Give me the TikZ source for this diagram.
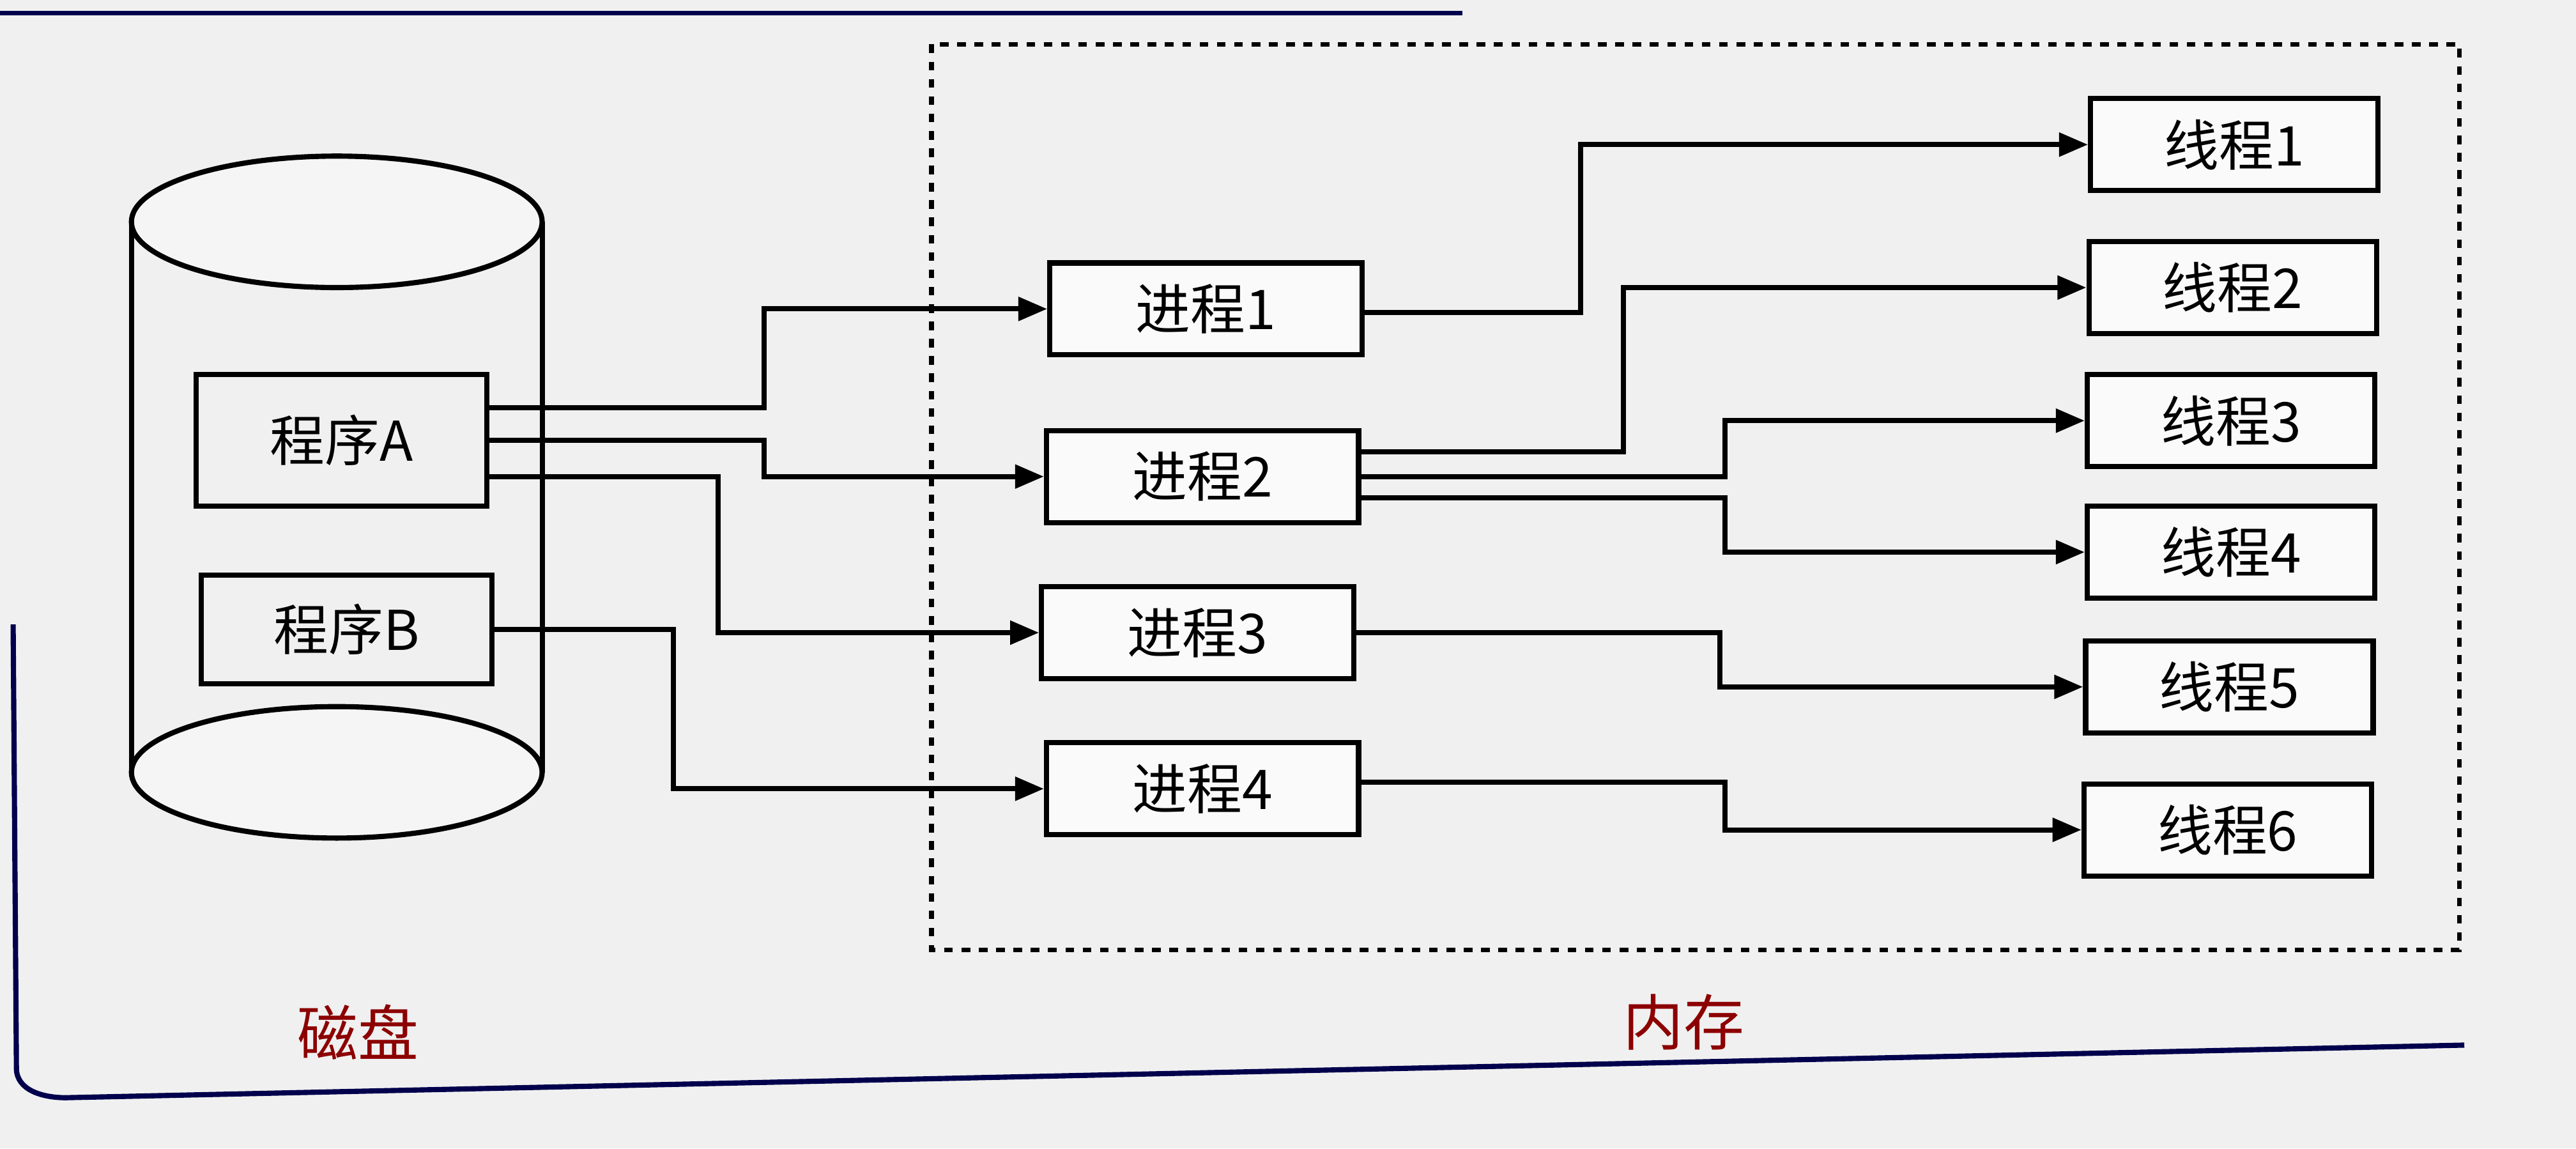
\documentclass[tikz,border=0pt]{standalone}
\usepackage{fontspec}
\setmainfont{Noto Sans CJK SC}
\usetikzlibrary{arrows.meta}
\begin{document}
\begin{tikzpicture}[x=0.02cm,y=-0.02cm,
  box/.style={draw,line width=1.8pt,fill=white!96!gray,minimum width=3.8cm,minimum height=1.12cm,font=\fontsize{19}{22}\selectfont},
  tbox/.style={box,minimum width=3.5cm},
  arr/.style={line width=1.8pt,-{Triangle[length=10pt,width=8pt]}},
  lbl/.style={text=red!55!black,font=\fontsize{21}{25}\selectfont}]
\fill[gray!12] (0,0) rectangle (1568,699);
\useasboundingbox (0,0) rectangle (1568,699);
\draw[line width=1.5pt,blue!30!black] (0,8) -- (890,8);
\draw[line width=1.8pt,blue!30!black] (8,380) -- (10,650) to[out=-90,in=180] (40,668) -- (1500,636);
% cylinder
\draw[line width=1.8pt] (80,135) -- (80,470);
\draw[line width=1.8pt] (330,135) -- (330,470);
\draw[line width=1.8pt,fill=gray!8] (205,135) ellipse [x radius=125,y radius=40];
\draw[line width=1.8pt,fill=gray!8] (205,470) ellipse [x radius=125,y radius=40];
\node[draw,line width=1.8pt,minimum width=3.54cm,minimum height=1.6cm,font=\fontsize{19}{22}\selectfont] (pA) at (208,268) {程序A};
\node[draw,line width=1.8pt,minimum width=3.54cm,minimum height=1.32cm,font=\fontsize{19}{22}\selectfont] (pB) at (211,383) {程序B};
% memory
\draw[dashed,line width=1.6pt] (567,27) rectangle (1497,578);
\node[box] (q1) at (734,188) {进程1};
\node[box] (q2) at (732,290) {进程2};
\node[box] (q3) at (729,385) {进程3};
\node[box] (q4) at (732,480) {进程4};
\node[tbox] (t1) at (1360,88) {线程1};
\node[tbox] (t2) at (1359,175) {线程2};
\node[tbox] (t3) at (1358,256) {线程3};
\node[tbox] (t4) at (1358,336) {线程4};
\node[tbox] (t5) at (1357,418) {线程5};
\node[tbox] (t6) at (1356,505) {线程6};
\node[lbl] (l1) at (218,628) {磁盘};
\node[lbl] (l2) at (1025,622) {内存};
% connectors
\draw[arr] (pA.east|-0,248) -- (465,248) |- (q1);
\draw[arr] (pA.east|-0,268) -- (465,268) |- (q2);
\draw[arr] (pA.east|-0,290) -- (437,290) |- (q3);
\draw[arr] (pB.east|-0,383) -- (410,383) |- (q4);
\draw[arr] (q1.east|-0,190) -- (962,190) |- (t1);
\draw[arr] (q2.east|-0,275) -- (988,275) |- (t2);
\draw[arr] (q2.east|-0,290) -- (1050,290) |- (t3);
\draw[arr] (q2.east|-0,303) -- (1050,303) |- (t4);
\draw[arr] (q3.east|-0,385) -- (1047,385) |- (t5);
\draw[arr] (q4.east|-0,476) -- (1050,476) |- (t6);
\end{tikzpicture}
\end{document}
